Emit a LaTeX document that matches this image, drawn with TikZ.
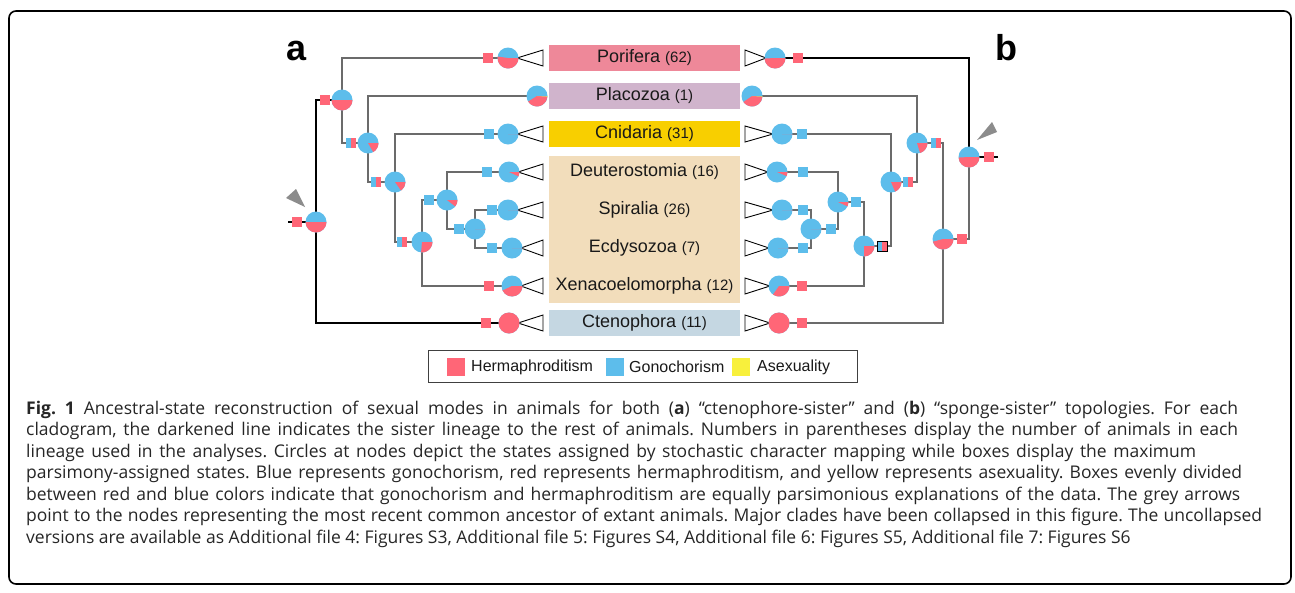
\documentclass[tikz,border=0pt]{standalone}
\usepackage{fontspec}
\setmainfont{Liberation Sans}
\newfontfamily\capfont{Open Sans}
\frenchspacing
\definecolor{cred}{HTML}{FF6677}
\definecolor{cblue}{HTML}{5DBDEB}
\definecolor{cyellow}{HTML}{F8F03C}
\definecolor{cpor}{HTML}{EE8899}
\definecolor{cpla}{HTML}{D0B4CC}
\definecolor{ccni}{HTML}{F8CF00}
\definecolor{cbil}{HTML}{F2DDBB}
\definecolor{ccte}{HTML}{C5D7E2}
\def\pr{10.5pt}
% pie: blue disc with a red wedge from #2 to #3 degrees
\newcommand\mpie[3]{%
  \fill[cblue] (#1) circle[radius=\pr];
  \fill[cred] (#1) -- ++(#2:\pr) arc[start angle=#2,end angle=#3,radius=\pr] -- cycle;}
% yellow wedge on a pie
\newcommand\ywedge[3]{%
  \fill[cyellow] (#1) -- ++(#2:\pr) arc[start angle=#2,end angle=#3,radius=\pr] -- cycle;}
% parsimony box: name, x, y, colour
\newcommand\msq[4]{\node[psq,fill=#4] (#1) at (#2,#3) {};}
% evenly divided parsimony box: name, x, y
\newcommand\msplit[3]{%
  \coordinate (#1) at (#2,#3);
  \fill[cblue] (#2-5,#3-5) rectangle (#2,#3+5);
  \fill[cred] (#2,#3-5) rectangle (#2+5,#3+5);}
% justified caption line of a given width
\newcommand\jline[2]{\makebox[#1][s]{#2}}
\begin{document}
\begin{tikzpicture}[x=1pt,y=-1pt,
  branch/.style={draw=black!58, line width=1.5pt},
  darkbranch/.style={draw=black, line width=1.1pt},
  tipwedge/.style={draw=black, line width=0.9pt, fill=white},
  pointer/.style={fill=black!45, draw=none},
  psq/.style={minimum size=10pt, inner sep=0pt, draw=none},
  clade/.style={minimum width=191pt, minimum height=26pt, inner sep=0pt, font=\fontsize{18}{20}\selectfont, text=black!90},
  cladetxt/.style={inner sep=0pt, font=\fontsize{18}{20}\selectfont, text=black!90},
  legsq/.style={minimum size=18pt, inner sep=0pt, draw=none},
  legtxt/.style={anchor=west, inner sep=0pt, font=\fontsize{16}{18}\selectfont, text=black!90},
  capline/.style={anchor=base west, inner sep=0pt, font=\capfont\fontsize{17.5}{20}\selectfont\frenchspacing, text=black!85},
  panel/.style={anchor=base, inner sep=0pt, font=\bfseries\fontsize{36}{40}\selectfont}]
\useasboundingbox (0,0) rectangle (1295,592);
\draw[line width=1.6pt, rounded corners=7pt] (9,11) rectangle (1291,584);

% panel letters
\node[panel] (pa) at (297,60) {a};
\node[panel] (pb) at (1006,60) {b};

% ---------- clade labels ----------
\node[clade, fill=cpor] (Lpor) at (644.5,58) {Porifera {\fontsize{15}{15}\selectfont(62)}};
\node[clade, fill=cpla] (Lpla) at (644.5,96) {Placozoa {\fontsize{15}{15}\selectfont(1)}};
\node[clade, fill=ccni] (Lcni) at (644.5,134) {Cnidaria {\fontsize{15}{15}\selectfont(31)}};
\node[fill=cbil, minimum width=191pt, minimum height=147pt, inner sep=0pt] (Lbil) at (644.5,229.5) {};
\node[cladetxt] (Ldeu) at (644.5,172) {Deuterostomia {\fontsize{15}{15}\selectfont(16)}};
\node[cladetxt] (Lspi) at (644.5,210) {Spiralia {\fontsize{15}{15}\selectfont(26)}};
\node[cladetxt] (Lecd) at (644.5,248) {Ecdysozoa {\fontsize{15}{15}\selectfont(7)}};
\node[cladetxt] (Lxen) at (644.5,286) {Xenacoelomorpha {\fontsize{15}{15}\selectfont(12)}};
\node[clade, fill=ccte] (Lcte) at (644.5,323) {Ctenophora {\fontsize{15}{15}\selectfont(11)}};

% ---------- tree a (ctenophore-sister) ----------
\coordinate (aStem) at (288,222);
\coordinate (aR) at (316,222);
\coordinate (a1) at (342,100);
\coordinate (a2) at (368,143);
\coordinate (a3) at (395,182);
\coordinate (a4) at (422,242);
\coordinate (a5) at (447,200);
\coordinate (a6) at (475,229);
\coordinate (aPor) at (508,58);
\coordinate (aPla) at (537,96);
\coordinate (aCni) at (508,134);
\coordinate (aDeu) at (509,172);
\coordinate (aSpi) at (508,210);
\coordinate (aEcd) at (512,248);
\coordinate (aXen) at (512,286);
\coordinate (aCte) at (509,323);

\draw[darkbranch] (aStem) -- (aR);
\draw[darkbranch] (aR) |- (a1);
\draw[darkbranch] (aR) |- (aCte);
\draw[branch] (a1) |- (aPor);
\draw[branch] (a1) |- (a2);
\draw[branch] (a2) |- (aPla);
\draw[branch] (a2) |- (a3);
\draw[branch] (a3) |- (aCni);
\draw[branch] (a3) |- (a4);
\draw[branch] (a4) |- (a5);
\draw[branch] (a4) |- (aXen);
\draw[branch] (a5) |- (aDeu);
\draw[branch] (a5) |- (a6);
\draw[branch] (a6) |- (aSpi);
\draw[branch] (a6) |- (aEcd);

\foreach \t/\yy in {aPor/58,aCni/134,aDeu/172,aSpi/210,aEcd/248,aXen/286,aCte/323}
  \draw[tipwedge] ([xshift=9pt]\t) -- (543,\yy-8) -- (543,\yy+8) -- cycle;

\mpie{aR}{180}{360}
\mpie{a1}{181}{360}
\mpie{a2}{300}{360}
\mpie{a3}{305}{360}
\mpie{a4}{265}{360}
\mpie{a5}{322}{360}
\mpie{a6}{358.5}{360}
\mpie{aPor}{172}{360}
\mpie{aPla}{212}{357}
\ywedge{aPla}{357}{360}
\mpie{aCni}{358.5}{360}
\mpie{aDeu}{335}{360}
\mpie{aSpi}{358.5}{360}
\mpie{aEcd}{358.5}{360}
\mpie{aXen}{205}{360}
\mpie{aCte}{0}{360}

\msq{qaR}{297}{222}{cred}
\msq{qa1}{325}{100}{cred}
\msplit{qa2}{351}{143}
\msplit{qa3}{376}{182}
\msplit{qa4}{402}{242}
\msq{qa5}{429}{200}{cblue}
\msq{qa6}{459}{229}{cblue}
\msq{qaPor}{488}{58}{cred}
\msq{qaCni}{489}{134}{cblue}
\msq{qaDeu}{487}{172}{cblue}
\msq{qaSpi}{492}{210}{cblue}
\msq{qaEcd}{492}{248}{cblue}
\msq{qaXen}{489}{286}{cred}
\msq{qaCte}{486}{323}{cred}

\fill[pointer] (296,189) -- (286,198) -- (305,207) -- cycle;

% ---------- tree b (sponge-sister) ----------
\coordinate (bStem) at (998,157);
\coordinate (bR) at (969,157);
\coordinate (b1) at (943,239);
\coordinate (b2) at (917,143);
\coordinate (b3) at (891,182);
\coordinate (b4) at (864,246);
\coordinate (b5) at (838,202);
\coordinate (b6) at (811,229);
\coordinate (bPor) at (775,58);
\coordinate (bPla) at (752,96);
\coordinate (bCni) at (782,134);
\coordinate (bDeu) at (777,172);
\coordinate (bSpi) at (782,210);
\coordinate (bEcd) at (778,248);
\coordinate (bXen) at (779,286);
\coordinate (bCte) at (779,323);

\draw[darkbranch] (bR) -- (bStem);
\draw[darkbranch] (bR) |- (bPor);
\draw[branch] (bR) |- (b1);
\draw[branch] (b1) |- (b2);
\draw[branch] (b1) |- (bCte);
\draw[branch] (b2) |- (bPla);
\draw[branch] (b2) |- (b3);
\draw[branch] (b3) |- (bCni);
\draw[branch] (b3) |- (b4);
\draw[branch] (b4) |- (b5);
\draw[branch] (b4) |- (bXen);
\draw[branch] (b5) |- (bDeu);
\draw[branch] (b5) |- (b6);
\draw[branch] (b6) |- (bSpi);
\draw[branch] (b6) |- (bEcd);

\foreach \t/\yy in {bPor/58,bCni/134,bDeu/172,bSpi/210,bEcd/248,bXen/286,bCte/323}
  \draw[tipwedge] ([xshift=-9pt]\t) -- (745,\yy-8) -- (745,\yy+8) -- cycle;

\mpie{bR}{183}{360}
\mpie{b1}{195}{360}
\mpie{b2}{287}{360}
\mpie{b3}{293}{360}
\mpie{b4}{270}{360}
\mpie{b5}{335}{360}
\mpie{b6}{358.5}{360}
\mpie{bPor}{183}{360}
\mpie{bPla}{215}{357}
\ywedge{bPla}{357}{360}
\mpie{bCni}{358.5}{360}
\mpie{bDeu}{337}{360}
\mpie{bSpi}{358.5}{360}
\mpie{bEcd}{358.5}{360}
\mpie{bXen}{235}{360}
\mpie{bCte}{0}{360}

\msq{qbR}{989}{157}{cred}
\msq{qb1}{962}{239}{cred}
\msplit{qb2}{936}{143}
\msplit{qb3}{908}{182}
\msplit{qb4}{882}{246}
\draw[black, line width=1pt] (877,241) rectangle (887,251);
\msq{qb5}{856}{202}{cblue}
\msq{qb6}{831}{229}{cblue}
\msq{qbPor}{798}{58}{cred}
\msq{qbCni}{802}{134}{cblue}
\msq{qbDeu}{803}{172}{cblue}
\msq{qbSpi}{803}{210}{cblue}
\msq{qbEcd}{803}{248}{cblue}
\msq{qbXen}{802}{286}{cred}
\msq{qbCte}{802}{323}{cred}

\fill[pointer] (992,122) -- (997,132) -- (977,140) -- cycle;

% ---------- legend ----------
\node[draw=black!75, line width=0.8pt, minimum width=429pt, minimum height=32pt, inner sep=0pt] (legend) at (642.5,366) {};
\node[legsq, fill=cred] (kH) at (456,367) {};
\node[legtxt] (tH) at (471,367) {Hermaphroditism};
\node[legsq, fill=cblue] (kG) at (615,367) {};
\node[legtxt] (tG) at (629,367) {Gonochorism};
\node[legsq, fill=cyellow] (kA) at (741,367) {};
\node[legtxt] (tA) at (757,367) {Asexuality};

% ---------- caption ----------
\node[capline] (c1) at (26,414) {\jline{1212pt}{\textbf{Fig.~1} Ancestral-state reconstruction of sexual modes in animals for both (\textbf{a}) “ctenophore-sister” and (\textbf{b}) “sponge-sister” topologies. For each}};
\node[capline] (c2) at (26,435.5) {\jline{1212pt}{cladogram, the darkened line indicates the sister lineage to the rest of animals. Numbers in parentheses display the number of animals in each}};
\node[capline] (c3) at (26,457) {\jline{1170pt}{lineage used in the analyses. Circles at nodes depict the states assigned by stochastic character mapping while boxes display the maximum}};
\node[capline] (c4) at (26,478.5) {\jline{1216pt}{parsimony-assigned states. Blue represents gonochorism, red represents hermaphroditism, and yellow represents asexuality. Boxes evenly divided}};
\node[capline] (c5) at (26,500) {\jline{1214pt}{between red and blue colors indicate that gonochorism and hermaphroditism are equally parsimonious explanations of the data. The grey arrows}};
\node[capline] (c6) at (26,521.5) {\jline{1236pt}{point to the nodes representing the most recent common ancestor of extant animals. Major clades have been collapsed in this figure. The uncollapsed}};
\node[capline] (c7) at (26,543) {versions are available as Additional file 4: Figures S3, Additional file 5: Figures S4, Additional file 6: Figures S5, Additional file 7: Figures S6};
\end{tikzpicture}
\end{document}
